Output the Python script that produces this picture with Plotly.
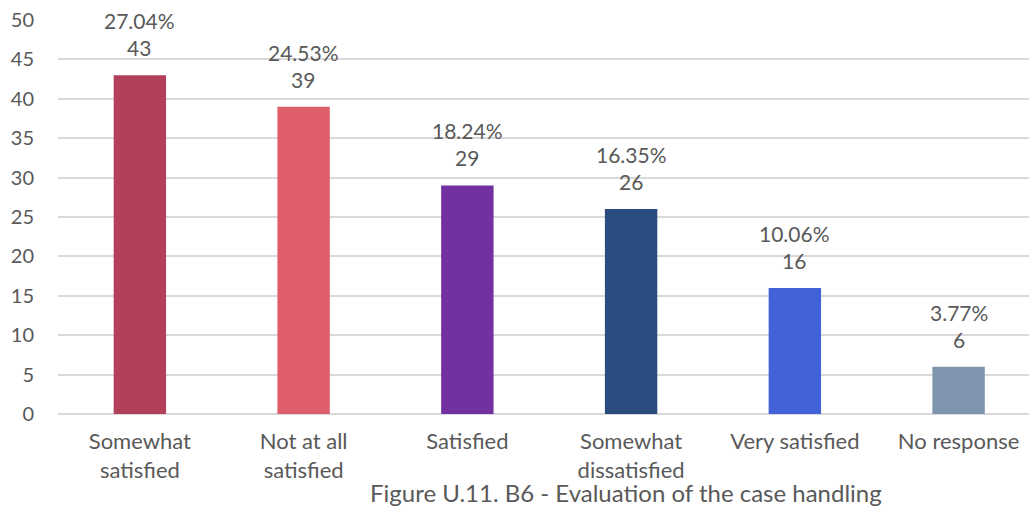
import plotly.graph_objects as go

categories = ["Somewhat<br>satisfied", "Not at all<br>satisfied", "Satisfied",
              "Somewhat<br>dissatisfied", "Very satisfied", "No response"]
counts = [43, 39, 29, 26, 16, 6]
percents = ["27.04%", "24.53%", "18.24%", "16.35%", "10.06%", "3.77%"]
colors = ["#B3405A", "#DE5E6C", "#7330A0", "#2A4C7E", "#4263D8", "#7F95AE"]
y_ticks = [0, 5, 10, 15, 20, 25, 30, 35, 40, 45, 50]
title_text = "Figure U.11. B6 - Evaluation of the case handling"

FONT = "Lato"
TXT = "#595959"

fig = go.Figure()
fig.add_trace(go.Bar(
    x=list(range(len(categories))), y=counts,
    marker=dict(color=colors, line=dict(width=0)),
    width=0.32,
    hoverinfo="skip",
))

for i, (c, p) in enumerate(zip(counts, percents)):
    fig.add_annotation(x=i, y=c, text=f"{p}<br>{c}", showarrow=False,
                       yanchor="bottom", yshift=13,
                       font=dict(family=FONT, size=21, color=TXT))

fig.add_annotation(xref="paper", yref="paper", x=0.585, y=-0.2,
                   text=title_text, showarrow=False, yanchor="middle",
                   font=dict(family=FONT, size=24, color=TXT))

fig.update_layout(
    width=1029, height=507,
    margin=dict(l=58, r=0, t=20, b=93),
    paper_bgcolor="white", plot_bgcolor="white",
    showlegend=False,
    font=dict(family=FONT, size=20, color=TXT),
    xaxis=dict(tickmode="array", tickvals=list(range(len(categories))),
               ticktext=categories, range=[-0.5, 5.43],
               showgrid=False, zeroline=False, showline=False,
               ticks="", ticklabelstandoff=12,
               tickfont=dict(family=FONT, size=22, color=TXT)),
    yaxis=dict(range=[0, 50], tickvals=y_ticks, showgrid=True,
               gridcolor="#D9D9D9", gridwidth=1.5, zeroline=True,
               zerolinecolor="#D9D9D9", zerolinewidth=1.5,
               ticks="", ticklabelstandoff=23,
               tickfont=dict(family=FONT, size=20, color=TXT)),
)

fig.write_html("out.html")
